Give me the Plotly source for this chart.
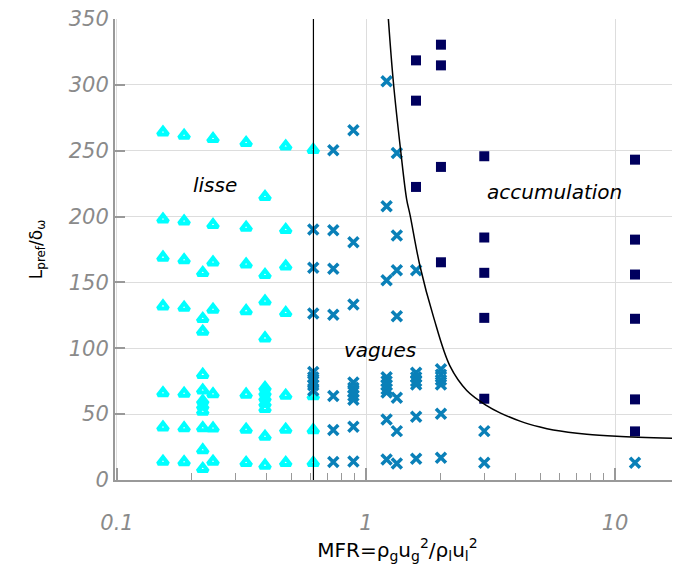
import math
import plotly.graph_objects as go

# ---- data ----
lisse_mfr = [0.153]*7 + [0.186]*7 + [0.221]*11 + [0.243]*7 + [0.330]*7 + [0.393]*11 + [0.476]*7 + [0.614]*4
lisse_L = [264, 198, 169, 132, 66, 40, 14,
           261.5, 196.5, 167, 131, 65.7, 39.4, 13.6,
           157.3, 122.4, 112.7, 80, 68.2, 60, 56, 52, 39.5, 22.7, 8.6,
           259, 193.7, 165.3, 129.4, 65.2, 39.2, 14.1,
           256, 191.7, 163.8, 128.4, 65, 38.4, 13.1,
           215, 155.8, 135.7, 107.7, 70, 66, 62, 58, 54, 33, 11.1,
           253.4, 190, 162.3, 126.9, 64.2, 38.4, 13.1,
           250.8, 63.7, 37.9, 13.1]

vagues_mfr = [0.614]*8 + [0.739]*7 + [0.89]*10 + [1.21]*10 + [1.33]*7 + [1.59]*7 + [2.0]*6 + [2.985]*2 + [12.03]
vagues_L = [190.1, 161.1, 126.4, 82, 78, 75, 72, 68,
            250.3, 189.6, 160.3, 125.4, 63.7, 37.9, 13.6,
            265.5, 180.5, 133.2, 74, 70, 67, 64, 61, 40.4, 14.1,
            302.7, 207.8, 151.7, 78, 75, 72, 69, 66.5, 45.9, 15.6,
            248.3, 185.6, 159.3, 124.4, 62.4, 37.1, 12.6,
            159.3, 81.5, 78, 75, 72.5, 48, 16.2,
            84, 80, 76, 72.5, 50.3, 16.9,
            37.1, 13.1,
            13.1]

accum_mfr = [1.588]*3 + [2.0]*4 + [2.985]*5 + [12.03]*6
accum_L = [318.6, 288, 222.5,
           330.5, 314.8, 237.7, 165.3,
           245.8, 184.1, 157.3, 123.1, 61.7,
           243.2, 182.5, 156, 122.4, 61.2, 36.9]

# transition lines: lisse/vagues (vertical) and vagues/accumulation
boundary_mfr = 0.615
curve_mfr = [1.229, 1.287, 1.379, 1.457, 1.502, 1.648, 1.863, 2.175, 2.538, 3.053, 3.453, 4.155, 5.0, 5.651, 7.697, 10.16, 18.24]
curve_L = [350.7, 302.7, 249.5, 212.9, 201.5, 162.3, 124.4, 86.4, 68.0, 56.5, 51.0, 44.7, 40.2, 38.0, 34.8, 33.3, 31.6]

x_tickvals = [0.1, 1, 10]
x_ticktext = ["0.1", "1", "10"]
x_minor_tickvals = [0.2, 0.3, 0.4, 0.5, 0.6, 0.7, 0.8, 0.9, 2, 3, 4, 5, 6, 7, 8, 9]
y_tickvals = [0, 50, 100, 150, 200, 250, 300, 350]

region_labels = ["lisse", "vagues", "accumulation"]
region_mfr = [0.2476, 1.138, 5.74]
region_L = [224.3, 99, 218.4]

FONT = "DejaVu Sans"
TICKGRAY = "#8A8A8A"

fig = go.Figure()
fig.add_trace(go.Scatter(
    x=lisse_mfr, y=lisse_L, mode="markers", name="lisse",
    marker=dict(symbol="triangle-up-open", size=9, color="#00FFFF",
                line=dict(width=4, color="#00FFFF"))))
fig.add_trace(go.Scatter(
    x=vagues_mfr, y=vagues_L, mode="markers", name="vagues",
    marker=dict(symbol="x-thin-open", size=10, color="#0A80B8",
                line=dict(width=3.5, color="#0A80B8"))))
fig.add_trace(go.Scatter(
    x=accum_mfr, y=accum_L, mode="markers", name="accumulation",
    marker=dict(symbol="square", size=10, color="#00005E", line=dict(width=0))))
fig.add_trace(go.Scatter(
    x=[boundary_mfr, boundary_mfr], y=[0, 350], mode="lines",
    line=dict(color="black", width=1.2), hoverinfo="skip"))
fig.add_trace(go.Scatter(
    x=curve_mfr, y=curve_L, mode="lines",
    line=dict(color="black", width=1.5, shape="spline", smoothing=1.0), hoverinfo="skip"))

for t, xm, yl in zip(region_labels, region_mfr, region_L):
    fig.add_annotation(x=math.log10(xm), y=yl, text=t, showarrow=False,
                       font=dict(family=FONT, size=20, color="black", style="italic"))

# the page body adds an 8px offset, so the figure is 672x566 with margins shifted accordingly
fig.update_layout(
    width=672, height=566,
    margin=dict(l=107, r=0, t=11, b=94),
    paper_bgcolor="white", plot_bgcolor="white",
    showlegend=False,
    xaxis=dict(
        type="log", range=[-1.008, 1.261], automargin=False,
        tickvals=x_tickvals, ticktext=x_ticktext,
        ticks="inside", ticklen=12, tickcolor="#999999", tickwidth=1.5,
        minor=dict(tickvals=x_minor_tickvals, ticks="inside", ticklen=7,
                   tickcolor="#999999", tickwidth=1.2, showgrid=False),
        showgrid=True, gridcolor="#DDDDDD", gridwidth=1,
        showline=True, linecolor="#999999", linewidth=2,
        zeroline=False,
        tickfont=dict(family=FONT, size=21, color=TICKGRAY, style="italic"),
        ticklabelstandoff=23, ticklabeloverflow="allow",
        title=dict(text="MFR=ρ<sub>g</sub>u<sub>g</sub><sup>2</sup>/ρ<sub>l</sub>u<sub>l</sub><sup>2</sup>",
                   font=dict(family=FONT, size=20, color="black"), standoff=1),
    ),
    yaxis=dict(
        range=[0, 350], tickvals=y_tickvals, automargin=False,
        ticks="inside", ticklen=10, tickcolor="#999999", tickwidth=1.5,
        showgrid=True, gridcolor="#DDDDDD", gridwidth=1,
        showline=True, linecolor="#999999", linewidth=2,
        zeroline=False,
        tickfont=dict(family=FONT, size=21, color=TICKGRAY, style="italic"),
        ticklabelstandoff=0, ticklabeloverflow="allow",
        title=dict(text="L<sub>pref</sub>/δ<sub>ω</sub>",
                   font=dict(family=FONT, size=17, color="black"), standoff=22),
    ),
)

fig.write_html("out.html")
